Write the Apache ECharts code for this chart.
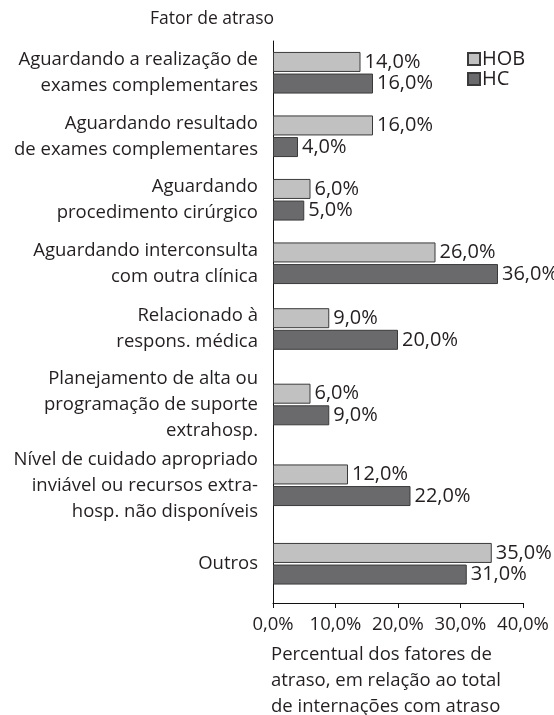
<!DOCTYPE html>
<html>
<head>
<meta charset="utf-8">
<script src="https://cdn.jsdelivr.net/npm/echarts@6/dist/echarts.min.js"></script>
<style>html,body{margin:0;padding:0;background:#fff;}#c{width:554px;height:715px;}</style>
</head>
<body>
<div id="c"></div>
<script>
const categories = [
  'Aguardando a realização de\nexames complementares',
  'Aguardando resultado\nde exames complementares',
  'Aguardando\nprocedimento cirúrgico',
  'Aguardando interconsulta\ncom outra clínica',
  'Relacionado à\nrespons. médica',
  'Planejamento de alta ou\nprogramação de suporte\nextrahosp.',
  'Nível de cuidado apropriado\ninviável ou recursos extra-\nhosp. não disponíveis',
  'Outros'
];
const seriesNames = ['HOB', 'HC'];
const hobValues = [14, 16, 6, 26, 9, 6, 12, 35];
const hcValues = [16, 4, 5, 36, 20, 9, 22, 31];
const xTickValues = [0, 10, 20, 30, 40];
const yTitle = 'Fator de atraso';
const xTitle = 'Percentual dos fatores de\natraso, em relação ao total\nde internações com atraso';

const FONT = 'Open Sans';
const TXT = '#231f20';
const segSizes = [4, 1, 1, 2];
const segBounds = [41, 295, 363, 446, 603];
const fmt = v => v.toFixed(1).replace('.', ',') + '%';

const grids = [], xAxes = [], yAxes = [], series = [];
let start = 0;
segSizes.forEach((n, i) => {
  const last = i === segSizes.length - 1;
  grids.push({left: 273, width: 250, top: segBounds[i], height: segBounds[i + 1] - segBounds[i]});
  xAxes.push({
    type: 'value', gridIndex: i, min: xTickValues[0], max: xTickValues[xTickValues.length - 1],
    interval: xTickValues[1] - xTickValues[0],
    splitLine: {show: false},
    axisLine: {show: last, lineStyle: {color: '#111', width: 1}},
    axisTick: {show: last, length: 5, lineStyle: {color: '#111'}},
    axisLabel: {show: last, formatter: fmt, fontFamily: FONT, fontSize: 18.5, color: TXT, margin: 12}
  });
  yAxes.push({
    type: 'category', gridIndex: i, inverse: true,
    data: categories.slice(start, start + n),
    axisLine: {lineStyle: {color: '#111', width: 1}},
    axisTick: {length: 5, lineStyle: {color: '#111'}},
    axisLabel: {interval: 0, fontFamily: FONT, fontSize: 18.5, lineHeight: 26, color: TXT, margin: 15, align: 'right'}
  });
  const sets = [hobValues, hcValues];
  const fills = ['#c1c1c1', '#6a6a6d'];
  seriesNames.forEach((nm, k) => {
    series.push({
      name: nm, type: 'bar', xAxisIndex: i, yAxisIndex: i,
      data: sets[k].slice(start, start + n),
      barWidth: 20, barGap: '8%',
      itemStyle: {color: fills[k], borderColor: '#3a3a3a', borderWidth: 1},
      label: {show: true, position: 'right', distance: 4, formatter: p => fmt(p.value),
        fontFamily: FONT, fontSize: 20, color: TXT},
      emphasis: {disabled: true}
    });
  });
  start += n;
});

const chart = echarts.init(document.getElementById('c'), null, {renderer: 'canvas'});
chart.setOption({
  animation: false,
  backgroundColor: '#fff',
  title: [
    {text: yTitle, left: 150, top: 10, padding: 0,
      textStyle: {fontFamily: FONT, fontSize: 17.5, fontWeight: 'normal', color: TXT}},
    {text: xTitle, left: 271, top: 642, padding: 0,
      textStyle: {fontFamily: FONT, fontSize: 18.5, lineHeight: 26, fontWeight: 'normal', color: TXT}}
  ],
  legend: {data: seriesNames, orient: 'vertical', left: 467, top: 49, padding: 0,
    itemWidth: 12, itemHeight: 12, itemGap: 0, icon: 'rect',
    textStyle: {fontFamily: FONT, fontSize: 20, lineHeight: 16, color: TXT, padding: [0, 0, 0, -3]}},
  grid: grids, xAxis: xAxes, yAxis: yAxes, series: series
});
</script>
</body>
</html>
